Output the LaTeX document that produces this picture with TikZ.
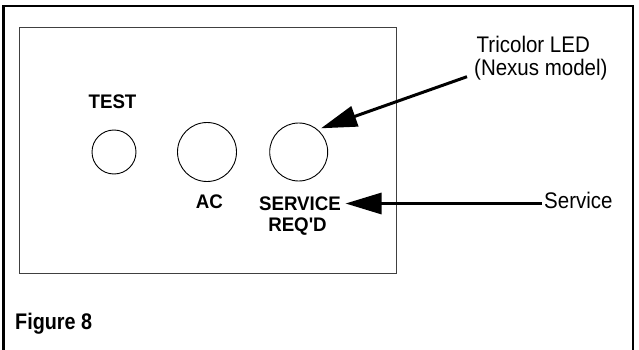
\documentclass[tikz,border=0pt]{standalone}
\usepackage{fontspec}
\setmainfont{Liberation Sans}
\usetikzlibrary{arrows.meta}
% slightly taller letters than the stock face
\newcommand{\tallr}[2][1.1]{\scalebox{1}[#1]{#2}}
\begin{document}
\begin{tikzpicture}[x=1pt,y=-1pt,
  frame/.style={line width=2.7pt,line join=miter},
  panel/.style={draw=black!75,line width=1.1pt},
  lamp/.style={draw,circle,line width=0.9pt,inner sep=0pt},
  paneltext/.style={inner sep=0pt,font=\fontsize{18.7}{21}\selectfont\bfseries},
  calltext/.style={inner sep=0pt,font=\fontsize{20.5}{24}\selectfont},
  pointer/.style={line width=3pt,-{Triangle[length=36pt,width=21pt]}}]
  \useasboundingbox (0,0) rectangle (639,350);
  % open-bottom outer frame
  \draw[frame] (3.3,352) -- (3.3,6) -- (633,6) -- (633,352);
  % front panel outline
  \draw[panel] (19.3,27.3) rectangle (396.3,273.5);
  % indicator lamps
  \node[lamp,minimum size=44pt] (test) at (114,152) {};
  \node[lamp,minimum size=59pt] (ac) at (207,152) {};
  \node[lamp,minimum size=58pt] (svc) at (298.7,152) {};
  % panel labels
  \node[paneltext,anchor=base] (testlbl) at (112.5,108.3) {\tallr[1.05]{TEST}};
  \node[paneltext,anchor=base] (aclbl) at (209.3,208.5) {\tallr[1.05]{AC}};
  \node[paneltext,anchor=base] (svclbl) at (300,210.8) {\tallr[1.05]{SERVICE}};
  \node[paneltext,anchor=base] (reqlbl) at (297.5,231.6) {\tallr[1.05]{REQ\textquotesingle D}};
  % callouts
  \node[calltext,anchor=base west] (tri) at (476.5,52.7) {\tallr{Tricolor LED}};
  \node[calltext,anchor=base west] (nexus) at (474,76) {\tallr{(Nexus model)}};
  \node[calltext,anchor=base west] (service) at (544,208.3) {\tallr{Service}};
  \node[inner sep=0pt,anchor=base west,font=\fontsize{19.8}{23}\selectfont\bfseries] (fig) at (15,329) {\tallr[1.14]{Figure 8}};
  % callout arrows
  \coordinate (ledtail) at (467,76.7);
  \coordinate (ledtip) at (321,128.3);
  \coordinate (svctail) at (542,203.5);
  \coordinate (svctip) at (345.5,203.5);
  \draw[pointer] (ledtail) -- (ledtip);
  \draw[pointer] (svctail) -- (svctip);
\end{tikzpicture}
\end{document}
